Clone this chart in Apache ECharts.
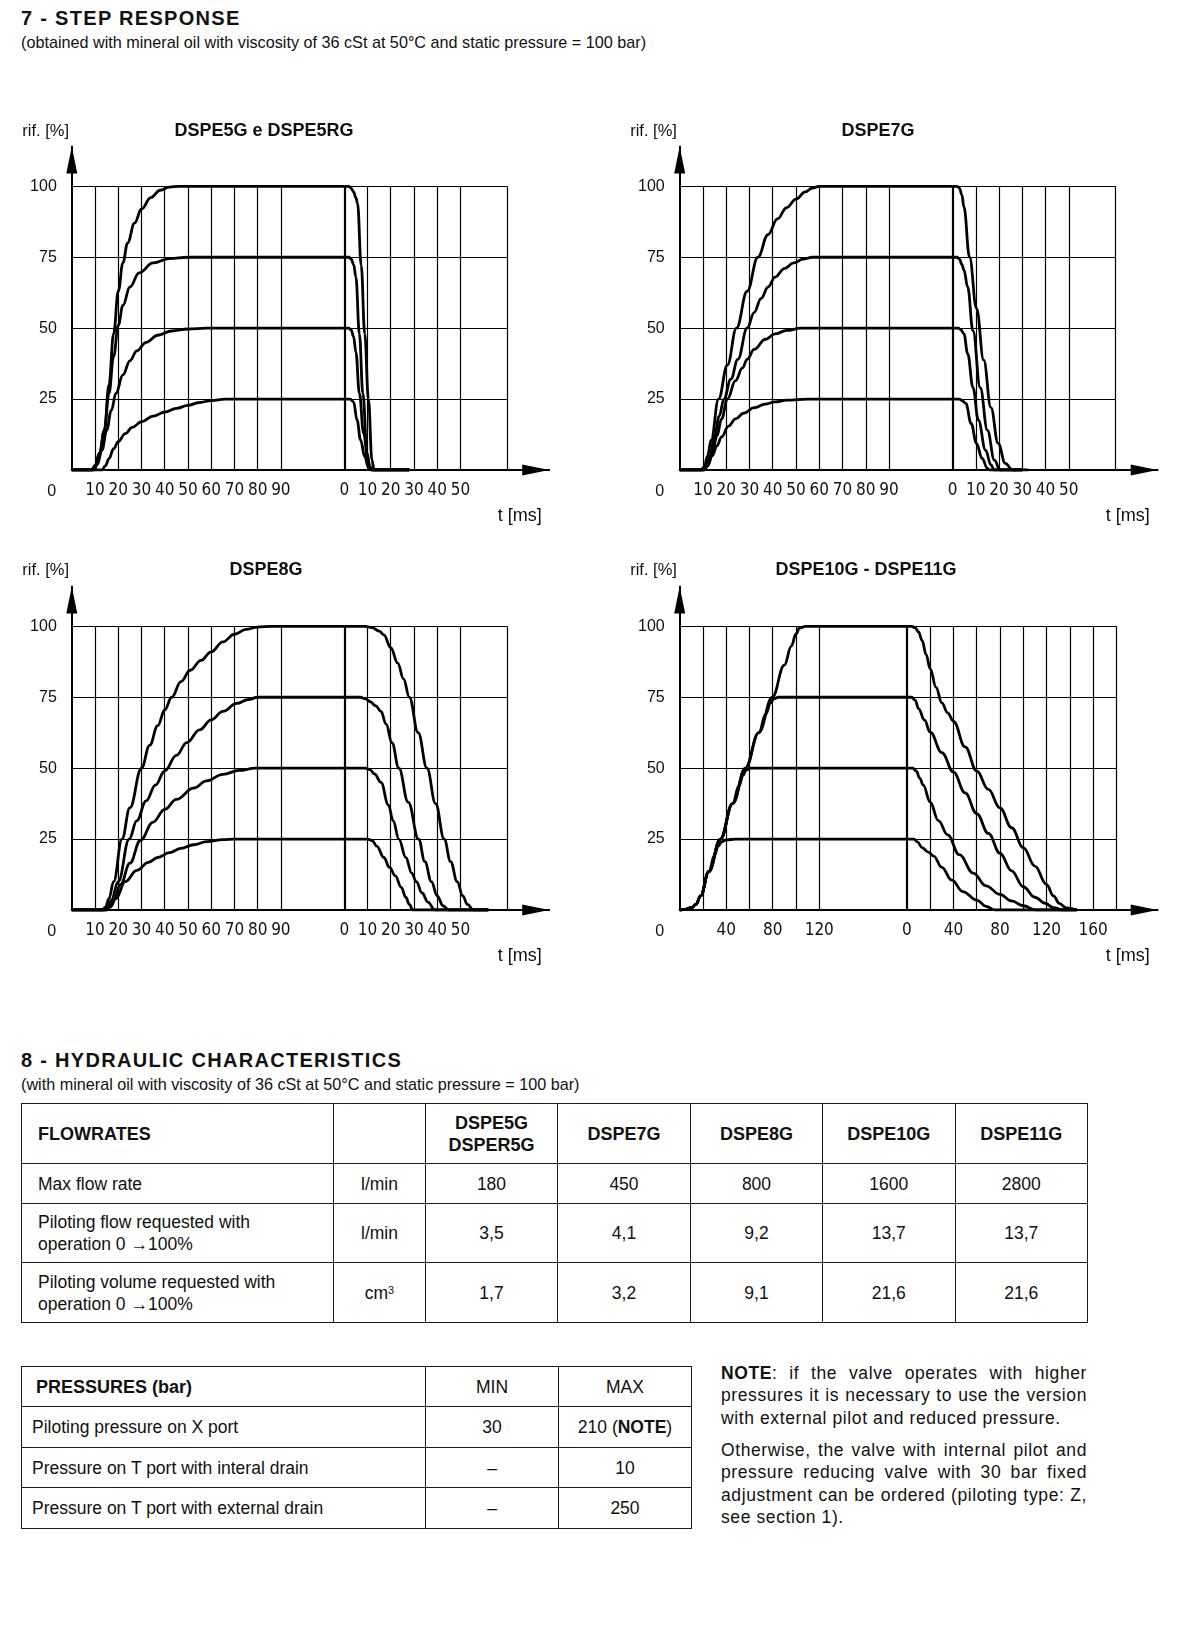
<!DOCTYPE html>
<html><head><meta charset="utf-8">
<script src="https://cdn.jsdelivr.net/npm/echarts@6/dist/echarts.min.js"></script>
<style>
html,body{margin:0;padding:0;background:#fff;}
body{width:1200px;height:1644px;position:relative;font-family:'Liberation Sans',Arial,sans-serif;color:#111;overflow:hidden;}
#chart{position:absolute;left:0;top:0;width:1200px;height:1000px;}
.abs{position:absolute;white-space:nowrap;}
.h{font-weight:bold;font-size:20px;letter-spacing:1.3px;line-height:24px;}
.sub{font-size:16.2px;line-height:20px;}
table{position:absolute;border-collapse:collapse;table-layout:fixed;font-size:17.5px;color:#111;}
td{border:1.6px solid #1a1a1a;padding:0;text-align:center;vertical-align:middle;line-height:22px;white-space:nowrap;}
td.l{text-align:left;padding-left:16px;}
td.l2{text-align:left;padding-left:10px;}
td.b{font-weight:bold;font-size:18px;}
td.hb{font-weight:bold;font-size:18px;text-align:left;padding-left:14px;}
sup{font-size:11px;vertical-align:top;position:relative;top:-3px;}
.note{position:absolute;left:721px;width:366px;font-size:17.5px;line-height:22.3px;letter-spacing:0.6px;}
.note span{display:block;white-space:nowrap;text-align:justify;text-align-last:justify;}
.note span.last{text-align-last:left;}
</style></head>
<body>
<div class="abs h" style="left:21px;top:6px;">7 - STEP RESPONSE</div>
<div class="abs sub" style="left:21px;top:32px;">(obtained with mineral oil with viscosity of 36 cSt at 50°C and static pressure = 100 bar)</div>
<div id="chart"></div>
<div class="abs h" style="left:21px;top:1048px;">8 - HYDRAULIC CHARACTERISTICS</div>
<div class="abs sub" style="left:21px;top:1074px;">(with mineral oil with viscosity of 36 cSt at 50°C and static pressure = 100 bar)</div>
<table id="t1" style="left:21px;top:1103px;width:1066px;"></table>
<table id="t2" style="left:21px;top:1366px;width:670px;"></table>
<div class="note" style="top:1362px;">
<span><b>NOTE</b>: if the valve operates with higher</span>
<span>pressures it is necessary to use the version</span>
<span class="last">with external pilot and reduced pressure.</span>
</div>
<div class="note" style="top:1439px;">
<span>Otherwise, the valve with internal pilot and</span>
<span>pressure reducing valve with 30 bar fixed</span>
<span>adjustment can be ordered (piloting type: Z,</span>
<span class="last">see section 1).</span>
</div>
<script>
// ---------------- DATA: step response curves [time ms, rif %] ----------------
// DSPE5G e DSPE5RG
const C1_R100 = [[0,0],[8.5,0],[10,1.5],[12,6],[14,14],[16,30],[18,48],[20,63],[22,73],[24,80],[27,87],[30,92],[34,96],[38,98.6],[42,99.7],[46,100],[117.3,100]];
const C1_R75  = [[0,0],[8.5,0],[10,1.5],[12,6],[14,14],[16,27],[18,40],[20,51],[22,58],[25,64.5],[29,69.5],[35,73],[42,74.5],[50,75],[117.3,75]];
const C1_R50  = [[0,0],[9.5,0],[11,2],[13,7],[15,14],[17,21],[19,27],[22,33.5],[25,38.5],[28,42],[32,45],[37,47.5],[43,49],[50,49.7],[58,50],[117.3,50]];
const C1_R25  = [[0,0],[13,0],[14.5,1.5],[16,4],[18,7.5],[20,10],[23,12.8],[26,15],[30,17],[35,19],[40,20.4],[45,21.7],[50,22.8],[55,23.8],[60,24.5],[66,25],[117.3,25]];
const C1_F100 = [[0,100],[2,100],[3,99.3],[4,98],[5,96],[5.7,94],[7.3,72],[8.8,48],[10.4,25],[11.9,3.5],[12.8,0],[28,0]];
const C1_F75  = [[0,75],[2,75],[3,74.3],[4,72.5],[5,68],[6.5,48],[8,27],[9.8,6],[11,1.2],[12,0],[28,0]];
const C1_F50  = [[0,50],[2,50],[3,49.3],[4,47],[5,41.5],[6.5,27],[8.3,13],[10.3,2.3],[11.5,0],[28,0]];
const C1_F25  = [[0,25],[2.5,25],[4,24],[5.5,17.6],[7,10.6],[8.8,4.7],[10.3,1.2],[11.5,0],[28,0]];
// DSPE7G
const C2_R100 = [[0,0],[9,0],[10.5,1],[12,5],[13.5,10.5],[16.7,25],[20.5,37],[24.4,50],[29,63],[33.6,75],[38,83],[42,88.5],[46,92.5],[50,95.5],[54,98],[57,99.4],[60,100],[117.3,100]];
const C2_R75  = [[0,0],[10,0],[11.5,1.5],[13,5],[15,12],[17,19],[19,25],[22,32],[25,39],[29,50],[32,55.5],[35,60.5],[38,64.5],[41,68],[45,71],[49,73],[53,74.3],[57,75],[117.3,75]];
const C2_R50  = [[0,0],[10.5,0],[12,1.5],[14,6],[16,12],[18,18],[20.5,25],[24,31.5],[27,36],[29,39],[32,42.5],[36.7,46],[41,48],[46,49.2],[52,50],[117.3,50]];
const C2_R25  = [[0,0],[10.5,0],[12,1.5],[14,5],[16,8.5],[18,11.7],[21,15.5],[24,18],[27.5,20],[32,22],[36.7,23.2],[41,24],[46,24.6],[55,25],[117.3,25]];
const C2_F100 = [[0,100],[2,100],[3,99.3],[4,97],[4.9,92.7],[7.3,75],[10.3,57],[13.4,38.7],[16.5,22],[19.6,9.4],[22.7,2.3],[25.8,0],[32.6,0]];
const C2_F75  = [[0,75],[2,75],[3,74.3],[4,72.5],[4.9,70.5],[6.5,64.5],[8.8,49],[11.9,29],[15,14],[18,3.5],[20.4,0],[30,0]];
const C2_F50  = [[0,50],[2.5,50],[3.5,49.5],[4.9,48],[6.5,41],[8.8,29],[11.1,17.6],[14.2,7],[16.5,1.8],[18,0],[30,0]];
const C2_F25  = [[0,25],[3,25],[4,24.5],[5.7,23.5],[8,16.4],[10.3,9.4],[12.7,4.1],[15,0.6],[15.8,0],[30,0]];
// DSPE8G
const C3_R100 = [[0,0],[13,0],[14.5,1],[16,4],[18,10],[21.6,25],[25,36],[30,50],[33.5,58],[37,65],[40,70.5],[43,75],[47,80.5],[51,84.5],[55.6,88],[60,91],[65,94.5],[70,97.2],[75,98.9],[80,99.7],[86,100],[117.3,100]];
const C3_R75  = [[0,0],[14,0],[15.5,1],[17,3.5],[20,10],[24.7,25],[28,31.5],[32,38.5],[36,44],[40,49],[45,54.5],[49.5,59],[55,63.5],[60,67],[65,70],[71,72.8],[76,74.2],[80,75],[117.3,75]];
const C3_R50  = [[0,0],[15,0],[16.5,1.2],[18,3.5],[21,9],[25,16.5],[29.5,24.5],[35,31],[40,35.5],[45,39],[52.5,43],[58,45.5],[65,47.8],[72,49.2],[79,50],[117.3,50]];
const C3_R25  = [[0,0],[15,0],[16.5,1],[19,4],[23,10],[28,14],[33,16.8],[37,18.5],[42,20.2],[47,21.7],[52.5,23],[58,24.1],[65,24.8],[70,25],[117.3,25]];
const C3_F100 = [[0,100],[9,100],[12,99.5],[15,98.3],[17,97],[20,92.5],[23,87],[25.5,81.5],[28,75],[31.8,62.5],[35.6,50],[39.3,37.5],[43,25],[45.8,17],[48.6,10],[51,5],[53,2],[55.6,0],[62,0]];
const C3_F75  = [[0,75],[7,75],[9,74.5],[11,73.5],[13.5,72],[15.8,70],[18,65.5],[20.5,59],[23.5,50],[27.5,38],[32,25],[34.7,17],[37.5,10],[40,5],[42.5,1.5],[45,0],[62,0]];
const C3_F50  = [[0,50],[9,50],[11,49.5],[13,48],[15.8,45],[19,37],[21,31.5],[23.5,25],[26.5,18.5],[29,13],[31,10],[33.5,6],[36,2.8],[39,0],[62,0]];
const C3_F25  = [[0,25],[10,25],[12,24.5],[14,22.5],[17,18.5],[19.5,15],[22,12],[24.5,8],[26.5,4.5],[28,2],[29.5,0],[62,0]];
// DSPE10G - DSPE11G
const C4_R100 = [[0,0],[5,0.2],[10,0.8],[14,2],[18,5],[25,13.5],[35,25],[45.5,37.5],[56.5,50],[68,62.5],[79.6,75],[90,86.3],[96,93],[100,97.3],[103,99.4],[108,100],[195.4,100]];
const C4_R75  = [[0,0],[5,0.2],[10,0.8],[14,2],[18,5],[25,13.5],[35,25],[45.5,37.5],[56.5,50],[68,62.5],[74,69],[78,73],[81,74.5],[85,75],[195.4,75]];
const C4_R50  = [[0,0],[5,0.2],[10,0.8],[14,2],[18,5],[25,13.5],[35,25],[45.5,37.5],[51,43.8],[54.5,47.5],[57,49.3],[61,50],[195.4,50]];
const C4_R25  = [[0,0],[5,0.2],[10,0.8],[14,2],[18,5],[25,13.5],[30,19.3],[33,22.5],[36,24],[40,24.7],[48,25],[195.4,25]];
const C4_F100 = [[0,100],[4,100],[7,99.5],[10,98],[13,95],[16.5,90],[20,85],[25,78.5],[30,73],[35,69.5],[40,66.5],[50,57.5],[60,49],[70,42.5],[80,36],[90,29],[100,22],[110,15.5],[120,9],[126,5],[131,2.3],[137,0.7],[146,0]];
const C4_F75  = [[0,75],[4,75],[7,74],[10,71],[15,67],[20,62.7],[30,55.5],[40,48.6],[50,41.3],[60,34],[70,27],[80,20],[90,13.8],[100,8.2],[110,4.5],[119,2.3],[126,0.8],[134,0],[146,0]];
const C4_F50  = [[0,50],[5,50],[8,49],[11,46.5],[14,44],[20,38],[27,31.5],[35,26.5],[45,19.5],[57,13],[68,8.5],[80,5.5],[90,3.2],[100,1.5],[111,0],[146,0]];
const C4_F25  = [[0,25],[6,25],[9,24],[13,22],[18,20.5],[23,19],[30,15],[38.6,10.5],[48,6.5],[60,3.5],[68,1.3],[75.6,0],[146,0]];

// tick labels / grid positions (ms)
const Y_TICKS = [25, 50, 75, 100];
const RISE_LABELS_10 = [10,20,30,40,50,60,70,80,90];
const FALL_LABELS_10 = [0,10,20,30,40,50];
const RISE_LABELS_20 = [40,80,120];
const FALL_LABELS_20 = [0,40,80,120,160];
const RISE_GRID_10 = [10,20,30,40,50,60,70,80,90];
const FALL_GRID_10 = [10,20,30,40,50,70];
const RISE_GRID_20 = [20,40,60,80,100,120];
const FALL_GRID_20 = [20,40,60,80,100,120,140,160,180];
const TITLES = ['DSPE5G e DSPE5RG','DSPE7G','DSPE8G','DSPE10G - DSPE11G'];

// table data
const FLOW_MODELS = ['DSPE5G<br>DSPER5G','DSPE7G','DSPE8G','DSPE10G','DSPE11G'];
const MAX_FLOW = ['180','450','800','1600','2800'];
const PILOT_FLOW = ['3,5','4,1','9,2','13,7','13,7'];
const PILOT_VOLUME = ['1,7','3,2','9,1','21,6','21,6'];
const PRESS_ROWS = ['Piloting pressure on X port','Pressure on T port with interal drain','Pressure on T port with external drain'];
const PRESS_MIN = ['30','–','–'];
const PRESS_MAX = ['210 (<b>NOTE</b>)','10','250'];

// ---------------- layout ----------------
const FONT = "'Liberation Sans', Arial, sans-serif";
const NARROW = "'Liberation Sans Narrow','Arial Narrow','DejaVu Sans Condensed','Liberation Sans',sans-serif";
const PX_Y = 2.837, YMAX = 114;
const LAYOUT = [
  {x0:71.8, y0:470, px:2.323, xmax:205.5, off:117.3, edge:70, riseGrid:RISE_GRID_10, fallGrid:FALL_GRID_10, riseLab:RISE_LABELS_10, fallLab:FALL_LABELS_10,
   curves:[[C1_R100,C1_F100],[C1_R75,C1_F75],[C1_R50,C1_F50],[C1_R25,C1_F25]], tx:264, ty:131},
  {x0:679.7, y0:470, px:2.326, xmax:205.5, off:117.3, edge:70, riseGrid:RISE_GRID_10, fallGrid:FALL_GRID_10, riseLab:RISE_LABELS_10, fallLab:FALL_LABELS_10,
   curves:[[C2_R100,C2_F100],[C2_R75,C2_F75],[C2_R50,C2_F50],[C2_R25,C2_F25]], tx:878, ty:131},
  {x0:71.8, y0:910, px:2.323, xmax:205.5, off:117.3, edge:70, riseGrid:RISE_GRID_10, fallGrid:FALL_GRID_10, riseLab:RISE_LABELS_10, fallLab:FALL_LABELS_10,
   curves:[[C3_R100,C3_F100],[C3_R75,C3_F75],[C3_R50,C3_F50],[C3_R25,C3_F25]], tx:266, ty:570},
  {x0:679.7, y0:910, px:1.163, xmax:411, off:195.4, edge:180, riseGrid:RISE_GRID_20, fallGrid:FALL_GRID_20, riseLab:RISE_LABELS_20, fallLab:FALL_LABELS_20,
   curves:[[C4_R100,C4_F100],[C4_R75,C4_F75],[C4_R50,C4_F50],[C4_R25,C4_F25]], tx:866, ty:570}
];

const grids=[], xAxes=[], yAxes=[], series=[], graphics=[];
const axisLineBase = {show:true, onZero:false, symbol:['none','triangle'], symbolSize:[11,27], symbolOffset:[0,-13.5], lineStyle:{color:'#000', width:2}};
LAYOUT.forEach((L, k) => {
  const h = YMAX * PX_Y;
  grids.push({left:L.x0, top:L.y0 - h, width:L.xmax * L.px, height:h, containLabel:false});
  xAxes.push({gridIndex:k, type:'value', min:0, max:L.xmax, position:'bottom',
    axisLine:axisLineBase, axisTick:{show:false}, splitLine:{show:false},
    axisLabel:{customValues:L.riseLab, margin:12, fontSize:17, fontFamily:NARROW, color:'#111', hideOverlap:false}});
  xAxes.push({gridIndex:k, type:'value', min:-L.off, max:L.xmax - L.off, position:'bottom',
    axisLine:{show:false, onZero:false}, axisTick:{show:false}, splitLine:{show:false},
    axisLabel:{customValues:L.fallLab, margin:12, fontSize:17, fontFamily:NARROW, color:'#111', hideOverlap:false}});
  yAxes.push({gridIndex:k, type:'value', min:0, max:YMAX, interval:25,
    axisLine:axisLineBase, axisTick:{show:false}, splitLine:{show:false},
    axisLabel:{margin:15, fontSize:16, fontFamily:FONT, color:'#111',
      formatter:v => (Y_TICKS.indexOf(v) >= 0 ? String(v) : '')}});
  // grid lines (through axis coordinates)
  const right = L.off + L.edge;
  const ml = [];
  Y_TICKS.forEach(y => ml.push([{coord:[0,y]},{coord:[right,y]}]));
  L.riseGrid.forEach(x => ml.push([{coord:[x,0]},{coord:[x,100]}]));
  ml.push([{coord:[L.off,0], lineStyle:{width:2.2}},{coord:[L.off,100]}]);
  L.fallGrid.forEach(v => ml.push([{coord:[L.off + v,0]},{coord:[L.off + v,100]}]));
  L.curves.forEach((pair, i) => {
    const base = {type:'line', showSymbol:false, smooth:0.4, smoothMonotone:'x', yAxisIndex:k,
      lineStyle:{color:'#000', width:2.8}, itemStyle:{color:'#000'}, silent:true, animation:false, z:3};
    const rise = Object.assign({}, base, {xAxisIndex:2*k, data:pair[0]});
    if (i === 0) {
      rise.markLine = {silent:true, symbol:['none','none'], label:{show:false}, animation:false, z:2,
        lineStyle:{color:'#000', width:1.2, type:'solid'}, emphasis:{disabled:true}, data:ml};
    }
    series.push(rise);
    series.push(Object.assign({}, base, {xAxisIndex:2*k+1, data:pair[1]}));
  });
  const txt = (x, y, text, size, weight, align) => graphics.push({type:'text', x:x, y:y, silent:true,
    style:{text:text, fill:'#111', fontSize:size, fontWeight:weight||'normal', fontFamily:FONT, align:align||'center', verticalAlign:'middle'}});
  txt(L.tx, L.ty, TITLES[k], 18, 'bold');
  txt(L.x0 - 49.5, L.ty, 'rif. [%]', 16.5, 'normal', 'left');
  txt(L.x0 + 448, L.y0 + 46.5, 't [ms]', 18);
  txt(L.x0 - 20, L.y0 + 22, '0', 16);
});

const chart = echarts.init(document.getElementById('chart'), null, {renderer:'canvas'});
chart.setOption({animation:false, grid:grids, xAxis:xAxes, yAxis:yAxes, series:series, graphic:graphics});

// ---------------- tables ----------------
const t1 = document.getElementById('t1');
let h1 = '<colgroup><col style="width:312px"><col style="width:92px"><col style="width:132px"><col style="width:133px"><col style="width:132px"><col style="width:132.5px"><col style="width:132.5px"></colgroup>';
h1 += '<tr style="height:60px"><td class="b" style="text-align:left;padding-left:16px">FLOWRATES</td><td></td>' + FLOW_MODELS.map(m => '<td class="b">' + m + '</td>').join('') + '</tr>';
h1 += '<tr style="height:40px"><td class="l">Max flow rate</td><td>l/min</td>' + MAX_FLOW.map(v => '<td>' + v + '</td>').join('') + '</tr>';
h1 += '<tr style="height:59px"><td class="l">Piloting flow requested with<br>operation 0 →100%</td><td>l/min</td>' + PILOT_FLOW.map(v => '<td>' + v + '</td>').join('') + '</tr>';
h1 += '<tr style="height:60px"><td class="l">Piloting volume requested with<br>operation 0 →100%</td><td>cm<sup>3</sup></td>' + PILOT_VOLUME.map(v => '<td>' + v + '</td>').join('') + '</tr>';
t1.innerHTML = h1;
const t2 = document.getElementById('t2');
let h2 = '<colgroup><col style="width:404px"><col style="width:133px"><col style="width:133px"></colgroup>';
h2 += '<tr style="height:40px"><td class="hb">PRESSURES (bar)</td><td>MIN</td><td>MAX</td></tr>';
PRESS_ROWS.forEach((r, i) => {
  h2 += '<tr style="height:' + (i === 1 ? 40 : 41) + 'px"><td class="l2">' + r + '</td><td>' + PRESS_MIN[i] + '</td><td>' + PRESS_MAX[i] + '</td></tr>';
});
t2.innerHTML = h2;
</script>
</body></html>
